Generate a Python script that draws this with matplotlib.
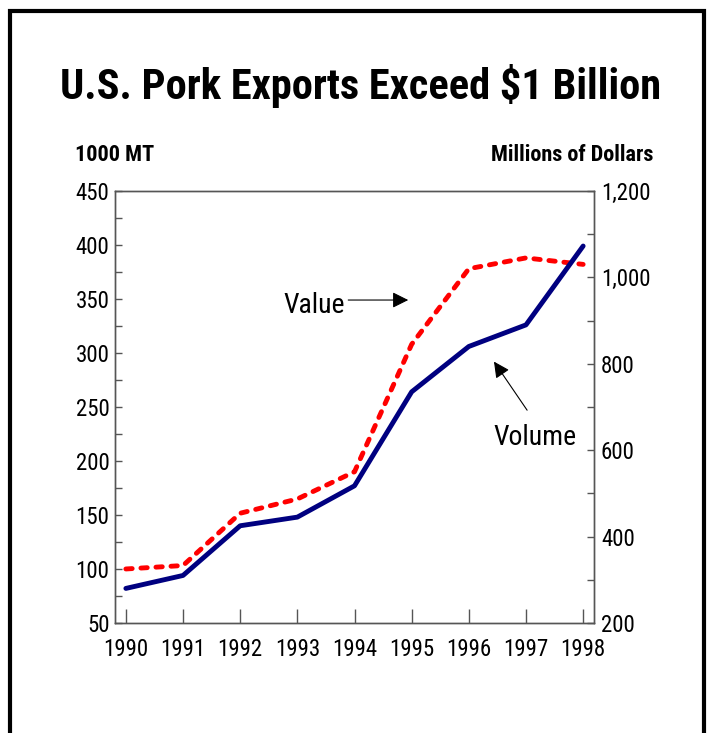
import numpy as np
import matplotlib
matplotlib.use('Agg')
import matplotlib.pyplot as plt
from matplotlib.patches import Rectangle
from matplotlib.ticker import FuncFormatter

years = [1990, 1991, 1992, 1993, 1994, 1995, 1996, 1997, 1998]
# 1000 MT (left axis)
volume = [82, 94, 140, 148, 177, 264, 306, 326, 399]
# Millions of dollars (right axis)
value = [325, 333, 454, 487, 550, 845, 1020, 1045, 1030]

plt.rcParams['font.family'] = ['Roboto Condensed', 'Liberation Sans', 'DejaVu Sans']

fig = plt.figure(figsize=(7.13, 7.33), dpi=100)
ax = fig.add_axes([0.1613, 0.1501, 0.6718, 0.5894])
ax2 = ax.twinx()

# 数据线
ax2.plot(years, value, color='#ff0000', linewidth=3.5, linestyle=(0, (1.3, 1.8)),
         dash_capstyle='round', zorder=2)
ax.plot(years, volume, color='#000080', linewidth=3.5, solid_capstyle='round', zorder=3)
ax.set_zorder(ax2.get_zorder() + 1)
ax.patch.set_visible(False)

ax.set_xlim(1989.81, 1998.19)
ax.set_ylim(50, 450)
ax2.set_ylim(200, 1200)

ax.set_xticks(years)
ax.set_xticklabels([str(y) for y in years])
ax.set_yticks(np.arange(50, 451, 50))
ax.set_yticks(np.arange(75, 450, 50), minor=True)
ax2.set_yticks(np.arange(200, 1201, 200))
ax2.set_yticks(np.arange(300, 1200, 200), minor=True)
ax2.yaxis.set_major_formatter(FuncFormatter(lambda v, p: f"{int(v):,}"))

tick_col = '#555555'
ax.tick_params(axis='x', direction='in', length=10, width=1, color=tick_col,
               labelsize=16.5, pad=11)
ax.tick_params(axis='y', which='both', direction='in', length=5, width=1, color=tick_col,
               labelsize=16.5, pad=4)
ax2.tick_params(axis='y', which='both', direction='in', length=5, width=1, color=tick_col,
                labelsize=16.5, pad=5)
for a in (ax, ax2):
    for s in a.spines.values():
        s.set_color(tick_col)
        s.set_linewidth(1)

# 标注
ax.annotate('', xy=(1994.94, 349), xytext=(1993.89, 349),
            arrowprops=dict(arrowstyle='-|>', color='black', lw=0.8,
                            mutation_scale=24, shrinkA=0, shrinkB=0))
ax.text(1993.84, 344, 'Value', ha='right', va='center', fontsize=20)
ax.annotate('', xy=(1996.44, 292), xytext=(1997.02, 247),
            arrowprops=dict(arrowstyle='-|>', color='black', lw=0.8,
                            mutation_scale=24, shrinkA=0, shrinkB=0))
ax.text(1997.15, 222, 'Volume', ha='center', va='center', fontsize=20)

fig.text(361 / 713, 1 - 86 / 733, 'U.S. Pork Exports Exceed $1 Billion',
         ha='center', va='center', fontsize=30.5, fontweight='bold')
fig.text(75 / 713, 1 - 155 / 733, '1000 MT', ha='left', va='center',
         fontsize=16, fontweight='bold')
fig.text(653 / 713, 1 - 155 / 733, 'Millions of Dollars', ha='right', va='center',
         fontsize=16, fontweight='bold')

# 外框
fig.add_artist(Rectangle((10 / 713, -0.2), 694 / 713, 1.2 - 11 / 733,
                         transform=fig.transFigure, fill=False, edgecolor='black',
                         linewidth=3, clip_on=False))

fig.savefig('out.png', dpi=100)
